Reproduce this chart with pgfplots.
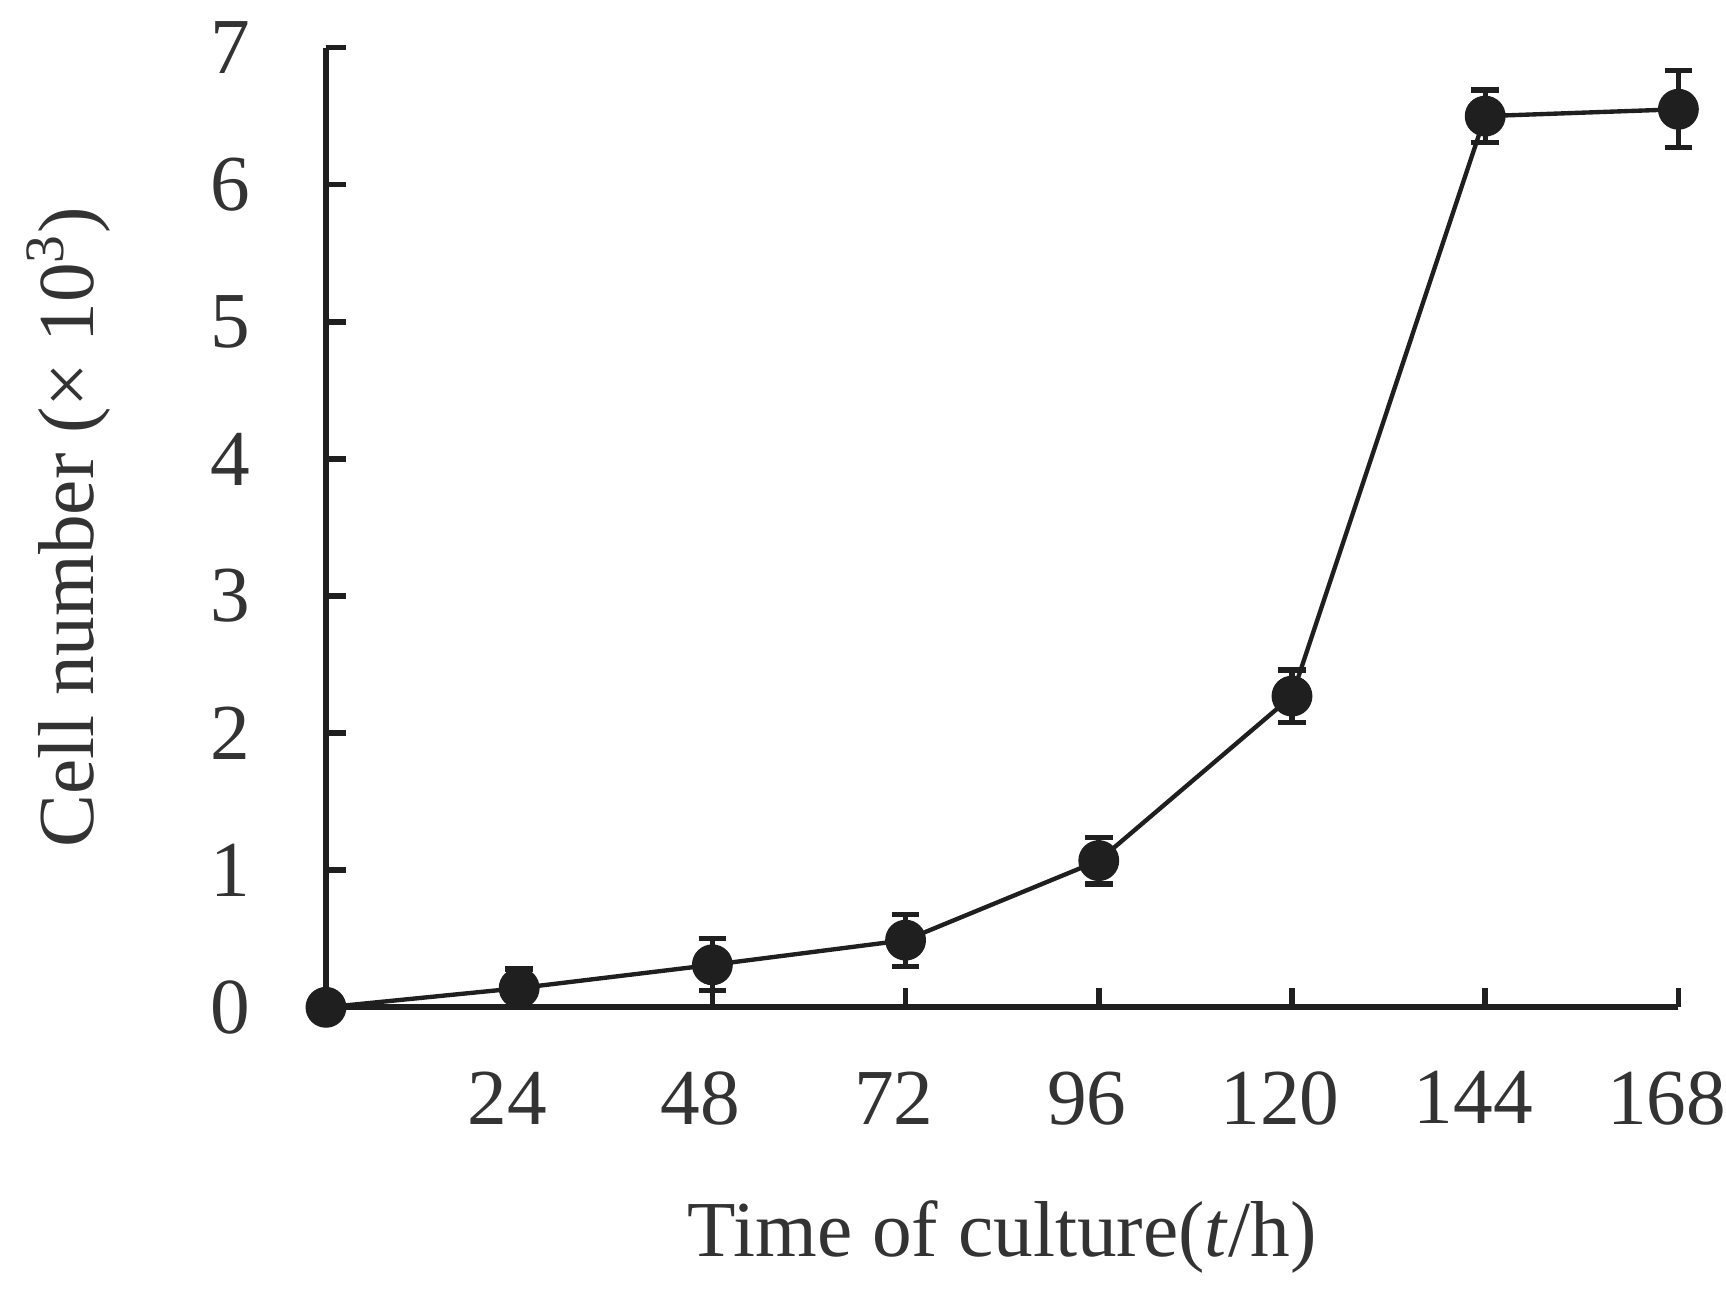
\documentclass[border=0pt]{standalone}
\usepackage{fontspec}
\setmainfont{Liberation Serif}
\usepackage{pgfplots}
\pgfplotsset{compat=1.18}
\colorlet{ink}{black!88}
\begin{document}
\fontsize{20}{24}\selectfont
\begin{tikzpicture}
\begin{axis}[
    scale only axis,
    width=341pt, height=242pt,
    xmin=0, xmax=168, ymin=0, ymax=7,
    axis x line=bottom, axis y line=left,
    axis line style={-, line width=1.5pt, ink},
    xtick={24,48,72,96,120,144,168},
    ytick={0,1,...,7},
    tick align=inside,
    major tick length=5pt,
    tick style={line width=1.4pt, ink},
    /pgf/number format/assume math mode=true,
    xticklabel style={anchor=north, inner sep=0pt, yshift=-16pt, xshift=-3pt, text=black!80},
    yticklabel style={anchor=east, inner sep=0pt, xshift=-19pt, text=black!80},
    xlabel={Time of culture(\textit{t}/h)},
    ylabel={Cell number (× 10\textsuperscript{3})},
    every axis x label/.style={at={([yshift=-58pt]axis description cs:0.5,0)}, anchor=center, text=black!80},
    every axis y label/.style={at={([xshift=-65pt]axis description cs:0,0.5)}, anchor=center, rotate=90, text=black!80},
    clip=false,
]
\addplot[
    ink, line width=1.1pt,
    mark=*, mark size=4.6pt, mark options={fill=ink, draw=ink},
    error bars/.cd, y dir=both, y explicit,
    error bar style={line width=1.3pt, ink},
    error mark options={rotate=90, mark size=3.5pt, line width=1.3pt, ink},
] coordinates {
    (0,0) +- (0,0)
    (24,0.14) +- (0,0.14)
    (48,0.31) +- (0,0.19)
    (72,0.49) +- (0,0.19)
    (96,1.07) +- (0,0.17)
    (120,2.27) +- (0,0.19)
    (144,6.50) +- (0,0.19)
    (168,6.55) +- (0,0.28)
};
\end{axis}
\path ([yshift=12pt]current axis.north);
\end{tikzpicture}
\end{document}
